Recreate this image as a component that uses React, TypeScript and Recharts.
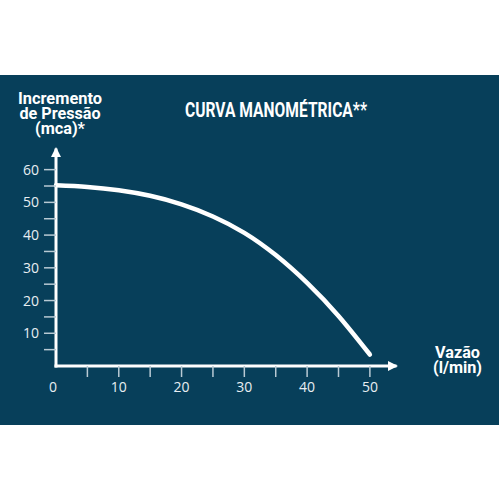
import { LineChart, Line, XAxis, YAxis } from "recharts"

const flow = [0, 5, 10, 15, 20, 25, 30, 35, 40, 45, 50]
const pressure = [55.2, 54.7, 53.7, 52, 49.4, 45.7, 40.7, 33.9, 25.4, 15.3, 3.5]
const xTicks = [0, 5, 10, 15, 20, 25, 30, 35, 40, 45, 50]
const yTicks = [5, 10, 15, 20, 25, 30, 35, 40, 45, 50, 55, 60]
const labelStep = 10
const title = "CURVA MANOMÉTRICA**"
const yTitle = ["Incremento", "de Pressão", "(mca)*"]
const xTitle = ["Vazão", "(l/min)"]

const data = flow.map((f, i) => ({ flow: f, pressure: pressure[i] }))

const BG = "#073f5a"
const TICK = "#b9cad4"
const LABEL = "#e8eef2"
const cond = "Roboto, 'Liberation Sans', sans-serif"

function XTick({ x, y, payload }: any) {
  const v = payload.value
  return (
    <g>
      {v !== 0 && <line x1={x} x2={x} y1={y} y2={y + 11} stroke={TICK} strokeWidth={1.5} />}
      {v % labelStep === 0 && (
        <text x={v === 0 ? x - 3 : x} y={y + 26} textAnchor="middle" fill={LABEL}
          fontFamily="'Open Sans', sans-serif" fontSize={14}>{v}</text>
      )}
    </g>
  )
}

function YTick({ x, y, payload }: any) {
  const v = payload.value
  return (
    <g>
      <line x1={x - 12} x2={x} y1={y} y2={y} stroke={TICK} strokeWidth={1.5} />
      {v % labelStep === 0 && (
        <text x={x - 17} y={y + 5} textAnchor="end" fill={LABEL}
          fontFamily="'Open Sans', sans-serif" fontSize={14}>{v}</text>
      )}
    </g>
  )
}

export default function App() {
  return (
    <div style={{ position: "relative", width: 500, height: 500, background: "#fff" }}>
      <style>{"body{margin:0}"}</style>
      <div style={{ position: "absolute", left: 0, top: 75, width: 499, height: 350, background: BG }} />
      <div style={{ position: "absolute", left: 0, top: 0 }}>
        <LineChart width={500} height={500} data={data}
          margin={{ top: 150, right: 105, bottom: 104, left: 0 }}>
          <XAxis dataKey="flow" type="number" domain={[0, 54]} ticks={xTicks} interval={0}
            height={30} tickLine={false} tickSize={0} tickMargin={0} tick={<XTick />}
            axisLine={{ stroke: "#fff", strokeWidth: 3, strokeLinecap: "square", markerEnd: "url(#arrow)" }} />
          <YAxis type="number" domain={[0, 66]} ticks={yTicks} interval={0}
            width={56} tickLine={false} tickSize={0} tickMargin={0} tick={<YTick />}
            axisLine={{ stroke: "#fff", strokeWidth: 3, strokeLinecap: "square", markerStart: "url(#arrow)" }} />
          <Line dataKey="pressure" type="natural" stroke="#fff" strokeWidth={4.5}
            strokeLinecap="round" dot={false} isAnimationActive={false} />
        </LineChart>
      </div>
      <svg width={500} height={500} style={{ position: "absolute", left: 0, top: 0, pointerEvents: "none" }}>
        <defs>
          <marker id="arrow" viewBox="0 0 10 10" refX={7} refY={5} markerWidth={11} markerHeight={10}
            markerUnits="userSpaceOnUse" orient="auto-start-reverse">
            <path d="M0,0 L10,5 L0,10 z" fill="#fff" />
          </marker>
        </defs>
        <text x={185} y={117} fill="#fff" fontFamily={cond} fontWeight="bold" fontSize={19.5}
          textLength={182} lengthAdjust="spacingAndGlyphs">{title}</text>
        {yTitle.map((t, i) => (
          <text key={t} x={60} y={104 + i * 15} textAnchor="middle" fill="#fff" fontFamily={cond}
            fontWeight="bold" fontSize={16} textLength={[84, 81, 50][i]} lengthAdjust="spacingAndGlyphs">{t}</text>
        ))}
        {xTitle.map((t, i) => (
          <text key={t} x={457.5} y={358 + i * 15} textAnchor="middle" fill="#fff" fontFamily={cond}
            fontWeight="bold" fontSize={16} textLength={[45, 49][i]} lengthAdjust="spacingAndGlyphs">{t}</text>
        ))}
      </svg>
    </div>
  )
}
